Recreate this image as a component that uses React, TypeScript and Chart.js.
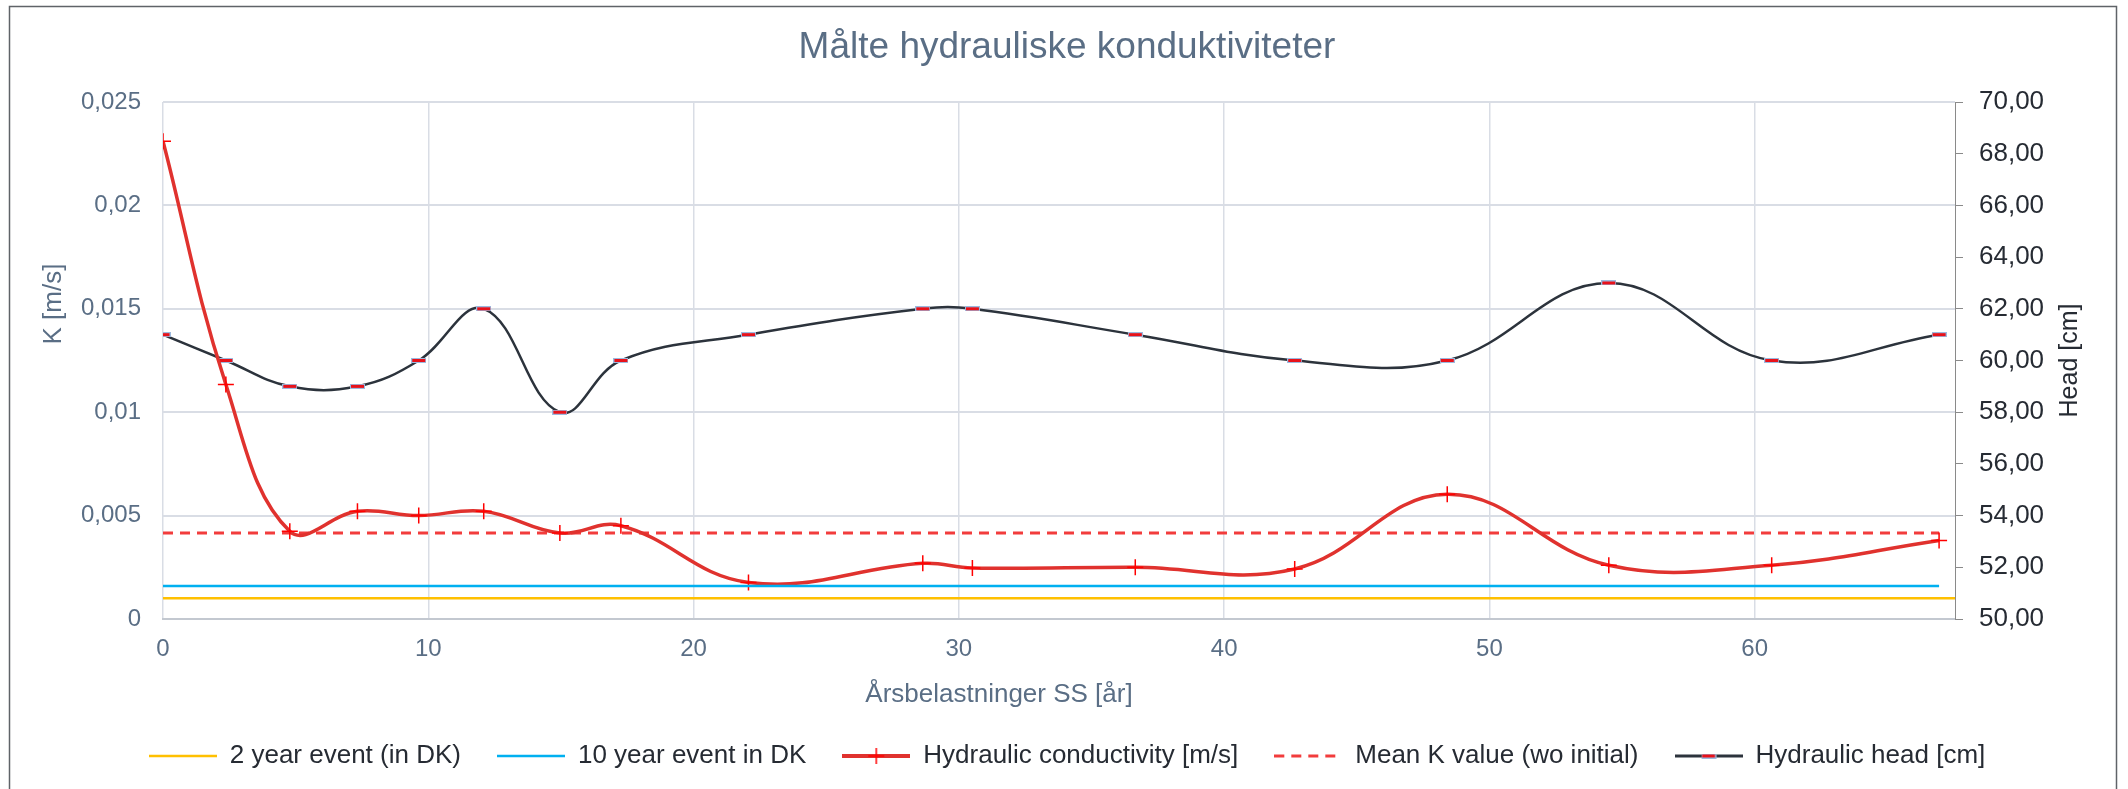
import React, { useEffect, useRef } from 'react';
import { Chart, registerables } from 'chart.js';

Chart.register(...registerables);

// ---------- text ----------
const TITLE = 'Målte hydrauliske konduktiviteter';
const X_TITLE = 'Årsbelastninger SS [år]';
const Y_LEFT_TITLE = 'K [m/s]';
const Y_RIGHT_TITLE = 'Head [cm]';
const SERIES_NAMES = [
  '2 year event (in DK)',
  '10 year event in DK',
  'Hydraulic conductivity [m/s]',
  'Mean K value (wo initial)',
  'Hydraulic head [cm]',
];

// ---------- data ----------
const YEARS = [0, 2.37, 4.78, 7.33, 9.64, 12.09, 14.96, 17.26, 22.07, 28.64, 30.51, 36.65, 42.66, 48.41, 54.5, 60.64, 66.95];
const K_VALUES = [0.0231, 0.01134, 0.00424, 0.00521, 0.005, 0.00521, 0.00416, 0.00451, 0.00177, 0.00269, 0.00247, 0.0025, 0.00242, 0.00603, 0.0026, 0.0026, 0.0038];
const HEAD_VALUES = [61, 60, 59, 59, 60, 62, 58, 60, 61, 62, 62, 61, 60, 60, 63, 60, 61];

const EVENT_2Y_X = [0, 68];
const EVENT_2Y_K = [0.001, 0.001];
const EVENT_10Y_X = [0, 66.95];
const EVENT_10Y_K = [0.0016, 0.0016];
const MEAN_K_X = [0, 66.95];
const MEAN_K_VALUES = [0.00416, 0.00416];

// ---------- axes ----------
const X_MIN = 0;
const X_MAX = 67.55;
const X_TICKS = [0, 10, 20, 30, 40, 50, 60];
const X_TICK_LABELS = ['0', '10', '20', '30', '40', '50', '60'];
const K_MIN = 0;
const K_MAX = 0.025;
const K_TICKS = [0, 0.005, 0.01, 0.015, 0.02, 0.025];
const K_TICK_LABELS = ['0', '0,005', '0,01', '0,015', '0,02', '0,025'];
const HEAD_MIN = 50;
const HEAD_MAX = 70;
const HEAD_TICKS = [50, 52, 54, 56, 58, 60, 62, 64, 66, 68, 70];
const HEAD_TICK_LABELS = ['50,00', '52,00', '54,00', '56,00', '58,00', '60,00', '62,00', '64,00', '66,00', '68,00', '70,00'];

// ---------- style ----------
const FONT = "'Liberation Sans', Arial, Helvetica, sans-serif";
const SLATE = '#5a6e85';
const DARK = '#262b33';
const YELLOW = '#ffc000';
const BLUE = '#00b0f0';
const RED_LINE = '#e0322e';
const RED_MARK = '#ff0000';
const RED_DASH = '#f23c3c';
const HEAD_LINE = '#2c333c';
const GRID = '#d9dde5';
const DASH = [10, 7];

const toXY = (xs: number[], ys: number[]) => xs.map((x, i) => ({ x, y: ys[i] }));

function makeCanvas(w: number, h: number, draw: (c: CanvasRenderingContext2D) => void) {
  const cv = document.createElement('canvas');
  cv.width = w;
  cv.height = h;
  const c = cv.getContext('2d')!;
  draw(c);
  return cv;
}

function headMarker() {
  return makeCanvas(15, 5, (c) => {
    c.fillStyle = '#9cb9df';
    c.fillRect(0, 0, 15, 5);
    c.fillStyle = '#e8121a';
    c.fillRect(1, 1, 13, 3);
  });
}

function legendImages() {
  const W = 68;
  const plain = (color: string, lw: number) =>
    makeCanvas(W, 8, (c) => {
      c.strokeStyle = color;
      c.lineWidth = lw;
      c.beginPath();
      c.moveTo(0, 4);
      c.lineTo(W, 4);
      c.stroke();
    });
  const kImg = makeCanvas(W, 18, (c) => {
    c.strokeStyle = RED_LINE;
    c.lineWidth = 4;
    c.beginPath();
    c.moveTo(0, 9);
    c.lineTo(W, 9);
    c.stroke();
    c.strokeStyle = RED_MARK;
    c.lineWidth = 1.5;
    c.beginPath();
    c.moveTo(W / 2, 1);
    c.lineTo(W / 2, 17);
    c.moveTo(W / 2 - 8, 9);
    c.lineTo(W / 2 + 8, 9);
    c.stroke();
  });
  const meanImg = makeCanvas(W, 8, (c) => {
    c.strokeStyle = RED_DASH;
    c.lineWidth = 3;
    c.setLineDash(DASH);
    c.beginPath();
    c.moveTo(0, 4);
    c.lineTo(W, 4);
    c.stroke();
  });
  const marker = headMarker();
  const headImg = makeCanvas(W, 8, (c) => {
    c.strokeStyle = HEAD_LINE;
    c.lineWidth = 3;
    c.beginPath();
    c.moveTo(0, 4);
    c.lineTo(W, 4);
    c.stroke();
    c.drawImage(marker, (W - 15) / 2, 1.5);
  });
  return [plain(YELLOW, 2.5), plain(BLUE, 2.5), kImg, meanImg, headImg];
}

const framePlugin = {
  id: 'frameAndTitles',
  beforeDraw(chart: any) {
    const ctx = chart.ctx;
    ctx.save();
    ctx.fillStyle = '#ffffff';
    ctx.fillRect(0, 0, chart.width, chart.height);
    ctx.restore();
  },
  afterDraw(chart: any) {
    const ctx = chart.ctx as CanvasRenderingContext2D;
    const a = chart.chartArea;
    ctx.save();
    // outer frame
    ctx.strokeStyle = '#5f6368';
    ctx.lineWidth = 1.5;
    ctx.strokeRect(9.5, 6.5, chart.width - 21, chart.height + 20);
    // x axis title
    ctx.font = `26px ${FONT}`;
    ctx.fillStyle = SLATE;
    ctx.textAlign = 'center';
    ctx.textBaseline = 'alphabetic';
    ctx.fillText(X_TITLE, a.left + 836, a.bottom + 83);
    // left axis title
    ctx.save();
    ctx.translate(a.left - 102, a.top + 202);
    ctx.rotate(-Math.PI / 2);
    ctx.fillText(Y_LEFT_TITLE, 0, 0);
    ctx.restore();
    // right axis title
    ctx.save();
    ctx.fillStyle = DARK;
    ctx.font = `25px ${FONT}`;
    ctx.translate(a.right + 122, (a.top + a.bottom) / 2);
    ctx.rotate(-Math.PI / 2);
    ctx.fillText(Y_RIGHT_TITLE, 0, 0);
    ctx.restore();
    ctx.restore();
  },
};

export default function App() {
  const ref = useRef<HTMLCanvasElement | null>(null);

  useEffect(() => {
    document.body.style.margin = '0';
    const canvas = ref.current;
    if (!canvas) return;
    Chart.defaults.font.family = FONT;

    const images = legendImages();
    const marker = headMarker();

    const chart = new Chart(canvas, {
      type: 'line',
      data: {
        datasets: [
          {
            label: SERIES_NAMES[0],
            data: toXY(EVENT_2Y_X, EVENT_2Y_K),
            borderColor: YELLOW,
            backgroundColor: YELLOW,
            borderWidth: 2.5,
            pointRadius: 0,
            yAxisID: 'y',
          },
          {
            label: SERIES_NAMES[1],
            data: toXY(EVENT_10Y_X, EVENT_10Y_K),
            borderColor: BLUE,
            backgroundColor: BLUE,
            borderWidth: 2.5,
            pointRadius: 0,
            yAxisID: 'y',
          },
          {
            label: SERIES_NAMES[2],
            data: toXY(YEARS, K_VALUES),
            borderColor: RED_LINE,
            backgroundColor: RED_LINE,
            borderWidth: 3.5,
            tension: 0.4,
            pointStyle: 'cross',
            pointRadius: 8,
            pointBorderWidth: 1.5,
            pointBorderColor: RED_MARK,
            yAxisID: 'y',
          },
          {
            label: SERIES_NAMES[3],
            data: toXY(MEAN_K_X, MEAN_K_VALUES),
            borderColor: RED_DASH,
            backgroundColor: RED_DASH,
            borderWidth: 3,
            borderDash: DASH,
            pointRadius: 0,
            yAxisID: 'y',
          },
          {
            label: SERIES_NAMES[4],
            data: toXY(YEARS, HEAD_VALUES),
            borderColor: HEAD_LINE,
            backgroundColor: HEAD_LINE,
            borderWidth: 2.5,
            tension: 0.4,
            pointStyle: marker as any,
            pointRadius: 6,
            yAxisID: 'y2',
          },
        ],
      },
      options: {
        responsive: false,
        maintainAspectRatio: false,
        animation: false,
        devicePixelRatio: 1,
        events: [],
        layout: { padding: { top: 6, left: 10, right: 4, bottom: 10 } },
        plugins: {
          tooltip: { enabled: false },
          title: {
            display: true,
            text: TITLE,
            color: SLATE,
            font: { size: 37, weight: 'normal' as any, family: FONT },
            padding: { top: 20, bottom: 31.6 },
          },
          legend: {
            display: true,
            position: 'bottom',
            labels: {
              color: DARK,
              font: { size: 26, family: FONT },
              usePointStyle: true,
              pointStyleWidth: 68,
              padding: 36,
              generateLabels: () =>
                SERIES_NAMES.map((name, i) => ({
                  text: name,
                  pointStyle: images[i] as any,
                  fillStyle: 'transparent',
                  strokeStyle: 'transparent',
                  lineWidth: 0,
                  hidden: false,
                  datasetIndex: i,
                  fontColor: DARK,
                })),
            },
          },
        },
        scales: {
          x: {
            type: 'linear',
            min: X_MIN,
            max: X_MAX,
            afterBuildTicks: (s: any) => {
              s.ticks = X_TICKS.map((v) => ({ value: v }));
            },
            afterFit: (s: any) => {
              s.height = 88;
            },
            ticks: {
              color: SLATE,
              font: { size: 24 },
              padding: 16,
              callback: (_v: any, i: number) => X_TICK_LABELS[i],
            },
            grid: { color: GRID, lineWidth: 1.5, drawTicks: false },
            border: { display: true, color: '#c3c8d0', width: 2 },
          },
          y: {
            type: 'linear',
            position: 'left',
            min: K_MIN,
            max: K_MAX,
            afterBuildTicks: (s: any) => {
              s.ticks = K_TICKS.map((v) => ({ value: v }));
            },
            afterFit: (s: any) => {
              s.width = 153;
            },
            ticks: {
              color: SLATE,
              font: { size: 24 },
              padding: 22,
              callback: (_v: any, i: number) => K_TICK_LABELS[i],
            },
            grid: { color: GRID, lineWidth: 2, drawTicks: false },
            border: { display: false },
          },
          y2: {
            type: 'linear',
            position: 'right',
            min: HEAD_MIN,
            max: HEAD_MAX,
            afterBuildTicks: (s: any) => {
              s.ticks = HEAD_TICKS.map((v) => ({ value: v }));
            },
            afterFit: (s: any) => {
              s.width = 169;
            },
            ticks: {
              color: DARK,
              font: { size: 26 },
              padding: 16,
              callback: (_v: any, i: number) => HEAD_TICK_LABELS[i],
            },
            grid: { drawOnChartArea: false, drawTicks: true, tickLength: 8, color: '#8a8a8a', lineWidth: 1 },
            border: { display: true, color: '#8a8a8a', width: 1 },
          },
        },
      },
      plugins: [framePlugin],
    });

    return () => {
      chart.destroy();
    };
  }, []);

  return (
    <div style={{ width: 2128, height: 789 }}>
      <canvas ref={ref} width={2128} height={789} style={{ display: 'block', width: 2128, height: 789 }} />
    </div>
  );
}
